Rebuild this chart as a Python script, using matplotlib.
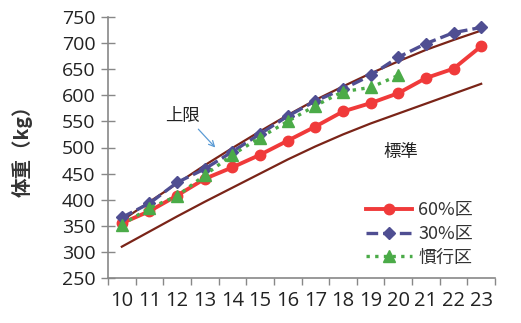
import matplotlib
matplotlib.use("Agg")
import matplotlib.pyplot as plt

months = ["10", "11", "12", "13", "14", "15", "16", "17", "18", "19", "20", "21", "22", "23"]

# measured body weight (kg) per group
group_60 = [355, 378, 408, 440, 462, 486, 513, 540, 569, 585, 604, 633, 651, 694]
group_30 = [366, 393, 433, 459, 492, 526, 560, 589, 612, 638, 673, 699, 720, 730]
group_conv = [352, 384, 407, 447, 486, 519, 550, 580, 607, 615, 638]

# reference curves
upper_limit = [360, 396, 431, 466, 499, 531, 562, 591, 617, 642, 665, 687, 706, 724]
standard = [310, 339, 368, 396, 423, 450, 477, 502, 525, 546, 565, 584, 603, 622]

JP = ["Noto Sans CJK JP", "DejaVu Sans"]
NUM = ["Open Sans", "DejaVu Sans"]

fig = plt.figure(figsize=(5.21, 3.23), dpi=100)
ax = fig.add_axes([108 / 521, 45 / 323, 387 / 521, 261 / 323])

xs = list(range(len(months)))
curve_color = "#7a2418"
ax.plot(xs, upper_limit, color=curve_color, lw=1.6, zorder=2)
ax.plot(xs, standard, color=curve_color, lw=1.6, zorder=2)

ax.plot(xs, group_60, color="#f03a3a", lw=2.8, marker="o", ms=7.5,
        label="60%区", zorder=3)
ax.plot(xs, group_30, color="#4f4e92", lw=2.4, ls=(0, (3.5, 1.5)), marker="D", ms=6,
        label="30%区", zorder=4)
ax.plot(xs[:len(group_conv)], group_conv, color="#4bab48", lw=2.4, ls=(0, (1, 1.6)),
        marker="^", ms=8, label="慣行区", zorder=5)

ax.set_xlim(-0.5, len(months) - 0.5)
ax.set_ylim(250, 750)
ax.set_yticks(range(250, 751, 50))
ax.set_xticks(xs)
ax.set_xticklabels(months, family=NUM, fontsize=14.5, color="#222222")
ax.set_xticks([x - 0.5 for x in range(len(months) + 1)], minor=True)
ax.tick_params(axis="x", which="major", length=0, pad=9)
ax.tick_params(axis="x", which="minor", length=5, width=1, color="#888888", direction="out")
ax.tick_params(axis="y", length=10, width=1, color="#888888", direction="inout", pad=4)
for lbl in ax.get_yticklabels():
    lbl.set_family(NUM)
    lbl.set_fontsize(14)
    lbl.set_color("#222222")

for side in ("top", "right"):
    ax.spines[side].set_visible(False)
for side in ("left", "bottom"):
    ax.spines[side].set_color("#888888")
    ax.spines[side].set_linewidth(1.2)

fig.text(22 / 521, 1 - 146 / 323, "体重（kg）", rotation=90, family=JP, fontsize=14,
         fontweight="bold", color="#333333", ha="center", va="center")

ax.text(2.2, 561, "上限", family=JP, fontsize=12.5, color="#222222", ha="center", va="center")
ax.annotate("", xy=(3.45, 496), xytext=(2.7, 539),
            arrowprops=dict(arrowstyle="->", color="#5b9bd5", lw=0.9))
ax.text(10.1, 492, "標準", family=JP, fontsize=12.5, color="#222222", ha="center", va="center")

leg = ax.legend(loc="center left", bbox_to_anchor=(366 / 521, 1 - 234 / 323),
                bbox_transform=fig.transFigure, frameon=False, prop={"family": JP, "size": 13},
                handlelength=2.55, handletextpad=0.35, labelspacing=0.32,
                borderpad=0, borderaxespad=0)
for t in leg.get_texts():
    t.set_color("#333333")

fig.savefig("out.png", dpi=100)
